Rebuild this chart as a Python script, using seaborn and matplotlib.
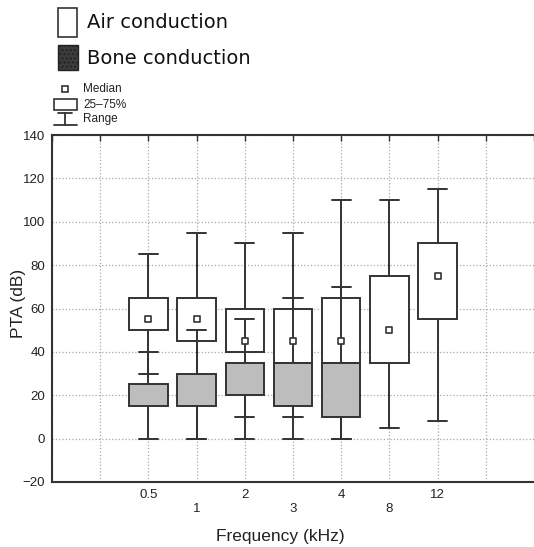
import numpy as np
import pandas as pd
import matplotlib
matplotlib.use("Agg")
import matplotlib.pyplot as plt
import seaborn as sns
from matplotlib.patches import Rectangle
from matplotlib.lines import Line2D

W, H = 534, 547
LINE = "#333333"
BONE_FILL = "#bdbdbd"

# frequency labels (kHz)
freqs = ["0.5", "1", "2", "3", "4", "8", "12"]

# air conduction: range, quartiles, median (dB)
air_min = [30, 0, 0, 0, 0, 5, 8]
air_q1 = [50, 45, 40, 35, 35, 35, 55]
air_med = [55, 55, 45, 45, 45, 50, 75]
air_q3 = [65, 65, 60, 60, 65, 75, 90]
air_max = [85, 95, 90, 95, 110, 110, 115]

# bone conduction: only up to 4 kHz
bone_freqs = ["0.5", "1", "2", "3", "4"]
bone_min = [0, 0, 10, 10, 0]
bone_q1 = [15, 15, 20, 15, 10]
bone_med = [20, 20, 25, 25, 20]  # median not drawn in the figure
bone_q3 = [25, 30, 35, 35, 35]
bone_max = [40, 50, 55, 65, 70]


def five_number_df(labels, mins, q1s, meds, q3s, maxs):
    # five points per group -> quartiles and range come out exactly
    pos = [freqs.index(f) + 2 for f in labels]
    vals = np.column_stack([mins, q1s, meds, q3s, maxs])
    return pd.DataFrame({"pos": np.repeat(pos, 5), "value": vals.ravel()})


def fx(x):
    return x / W


def fy(y):
    return 1 - y / H


sns.set_style("white")
plt.rcParams["font.family"] = ["Liberation Sans", "DejaVu Sans"]

fig = plt.figure(figsize=(W / 100, H / 100), dpi=100)
ax = fig.add_axes([fx(52), fy(482), (534 - 52) / W, (482 - 135) / H])

df_air = five_number_df(freqs, air_min, air_q1, air_med, air_q3, air_max)
df_bone = five_number_df(bone_freqs, bone_min, bone_q1, bone_med, bone_q3, bone_max)

box_kws = dict(x="pos", y="value", native_scale=True, whis=(0, 100), width=0.8,
               linecolor=LINE, linewidth=1.4, saturation=1,
               medianprops={"visible": False}, ax=ax)
sns.boxplot(data=df_air, color="white", **box_kws)
sns.boxplot(data=df_bone, color=BONE_FILL, **box_kws)

sns.scatterplot(x=[freqs.index(f) + 2 for f in freqs], y=air_med, marker="s", s=16,
                color="white", edgecolor=LINE, linewidth=1.2, zorder=6,
                legend=False, ax=ax)

ax.set_xlim(0, 10)
ax.set_ylim(-20, 140)
ax.set_yticks(range(-20, 141, 20))
ax.set_xticks(range(0, 11))
xlabels = [""] * 11
for i, f in enumerate(freqs):
    xlabels[i + 2] = f if i % 2 == 0 else "\n" + f
ax.set_xticklabels(xlabels)
ax.set_xlabel("")
ax.set_ylabel("")
ax.tick_params(axis="both", direction="in", length=4, width=1, color=LINE,
               labelsize=9.5, labelcolor="#222222", pad=5)
ax.tick_params(axis="x", top=True)
ax.grid(True, color="#a8a8a8", linestyle=":", linewidth=0.9)
ax.set_axisbelow(True)
for side in ["left", "top", "bottom"]:
    ax.spines[side].set_color(LINE)
    ax.spines[side].set_linewidth(1.5)
ax.spines["right"].set_visible(False)

fig.text(fx(18), fy(303), "PTA (dB)", rotation=90, ha="center", va="center",
         fontsize=12.5, color="#222222")
fig.text(fx(280), fy(537), "Frequency (kHz)", ha="center", va="center",
         fontsize=12.5, color="#222222")

# top legend: conduction types
fig.add_artist(Rectangle((fx(58), fy(37)), (77 - 58) / W, (37 - 8) / H,
                         transform=fig.transFigure, facecolor="white",
                         edgecolor=LINE, linewidth=1.2))
fig.text(fx(87), fy(22), "Air conduction", ha="left", va="center",
         fontsize=14, family="DejaVu Sans", color="#111111")
fig.add_artist(Rectangle((fx(58), fy(70)), (78 - 58) / W, (70 - 45) / H,
                         transform=fig.transFigure, facecolor="#3c3c3c",
                         edgecolor="#222222", hatch="....", linewidth=1.0))
fig.text(fx(87), fy(58), "Bone conduction", ha="left", va="center",
         fontsize=14, family="DejaVu Sans", color="#111111")

# small legend: box plot key
fig.add_artist(Line2D([fx(65)], [fy(89)], transform=fig.transFigure, marker="s",
                      markersize=4, markerfacecolor="white", markeredgecolor=LINE,
                      markeredgewidth=1.2, linestyle="none"))
fig.text(fx(83), fy(89), "Median", ha="left", va="center", fontsize=8.5, color="#222222")
fig.add_artist(Rectangle((fx(54), fy(110)), (77 - 54) / W, (110 - 99) / H,
                         transform=fig.transFigure, facecolor="white",
                         edgecolor=LINE, linewidth=1.2))
fig.text(fx(83), fy(105), "25\u201375%", ha="left", va="center", fontsize=8.5, color="#222222")
for xs, ys in [([65, 65], [113, 125]), ([54, 77], [125, 125]), ([58, 72], [113, 113])]:
    fig.add_artist(Line2D([fx(v) for v in xs], [fy(v) for v in ys],
                          transform=fig.transFigure, color=LINE, linewidth=1.3))
fig.text(fx(83), fy(119), "Range", ha="left", va="center", fontsize=8.5, color="#222222")

fig.savefig("out.png", dpi=100)
